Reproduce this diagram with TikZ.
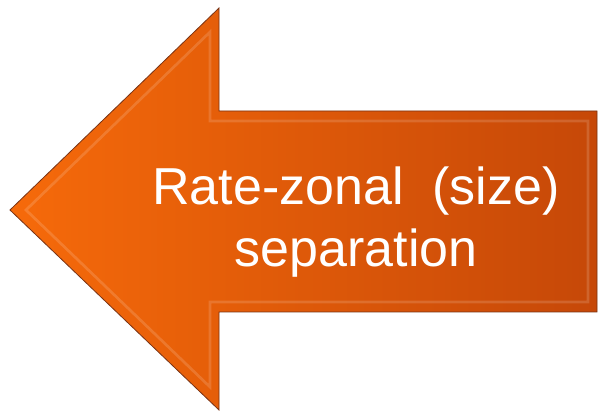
\documentclass[tikz,border=0pt]{standalone}
\usepackage{fontspec}
\setmainfont{Liberation Sans}
\usetikzlibrary{positioning}
\definecolor{arrowlight}{RGB}{246,106,10}
\definecolor{arrowdark}{RGB}{198,72,8}
\definecolor{arrowedge}{RGB}{120,50,20}
\tikzset{
  arrowbody/.style={left color=arrowlight, right color=arrowdark, draw=arrowedge, line width=0.6pt, line join=miter},
  bevel/.style={draw=white, opacity=0.15, line width=2pt, line join=miter},
  arrowtext/.style={text=white, align=center, font=\fontsize{39}{47}\selectfont}
}
\begin{document}
\begin{tikzpicture}[x=0.75pt, y=-0.75pt]
  \useasboundingbox (0,0) rectangle (600,416);
  % arrow outline
  \path[arrowbody] (10,210) -- (219,8) -- (219,111) -- (597,111)
    -- (597,312) -- (219,312) -- (219,410) -- cycle;
  % inner bevel
  \draw[bevel] (26,210) -- (210,32) -- (210,121) -- (588,121)
    -- (588,302) -- (210,302) -- (210,387) -- cycle;
  \node[arrowtext] (label) at (356,222) {Rate-zonal\ \ (size)\\separation};
\end{tikzpicture}
\end{document}
